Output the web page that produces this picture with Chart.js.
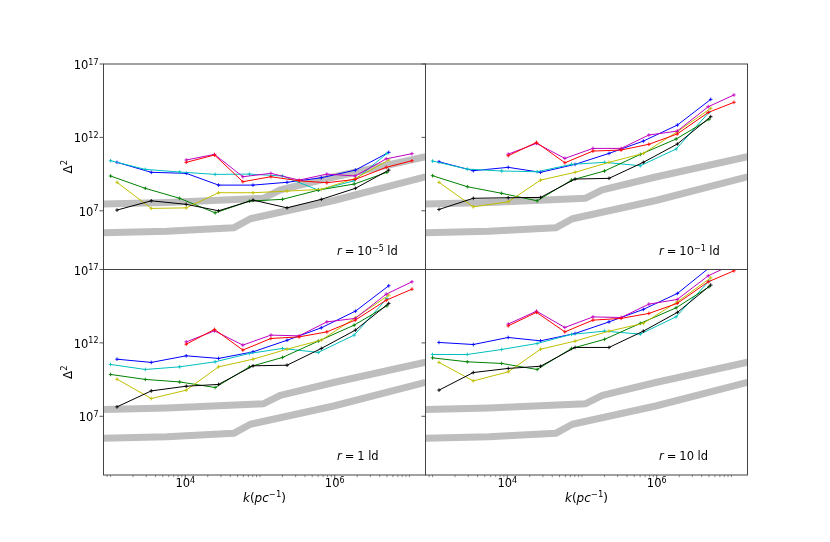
<!DOCTYPE html>
<html>
<head>
<meta charset="utf-8">
<script src="https://cdn.jsdelivr.net/npm/chart.js@4.4.1/dist/chart.umd.min.js"></script>
<style>
  html, body { margin: 0; padding: 0; background: #fff; }
  #fig { position: relative; width: 830px; height: 542px; }
  #fig canvas { position: absolute; left: 0; top: 0; }
</style>
</head>
<body>
<div id="fig">
  <canvas id="p0" width="830" height="542"></canvas>
  <canvas id="p1" width="830" height="542"></canvas>
  <canvas id="p2" width="830" height="542"></canvas>
  <canvas id="p3" width="830" height="542"></canvas>
</div>
<script>
// k grids (pc^-1) of the three groups of curves
const K_A = [1.22e3, 3.51e3, 1.03e4, 2.79e4, 8.07e4, 2.30e5, 6.62e5, 1.89e6, 5.28e6];   // blue, yellow, black
const K_B = [1.0e3, 2.92e3, 8.41e3, 2.51e4, 7.24e4, 2.0e5, 6.03e5, 1.82e6, 5.01e6];    // cyan, green
const K_C = [1.03e4, 2.46e4, 5.90e4, 1.40e5, 3.34e5, 7.85e5, 1.88e6, 4.89e6, 1.08e7];  // red, magenta

// Delta^2 per panel: [r=1e-5, r=1e-1, r=1, r=10]
const BLUE = [
  [2.0e10, 4.17e9, 3.55e9, 5.62e8, 5.62e8, 8.71e8, 1.78e9, 5.89e9, 9.55e10],
  [2.19e10, 5.37e9, 9.12e9, 4.17e9, 1.45e10, 8.13e10, 5.62e11, 6.92e12, 3.89e14],
  [7.76e10, 4.68e10, 1.32e11, 8.71e10, 2.45e11, 1.51e12, 1.07e13, 1.45e14, 7.76e15],
  [1.07e12, 7.76e11, 2.34e12, 1.38e12, 4.37e12, 2.69e13, 1.91e14, 2.34e15, 1.58e17]
];
const CYAN = [
  [2.57e10, 6.61e9, 4.37e9, 3.02e9, 3.16e9, 2.34e9, 2.57e8, 1.10e9, 8.13e10],
  [2.45e10, 6.92e9, 5.13e9, 4.57e9, 1.45e10, 2.0e10, 1.17e10, 1.62e11, 5.13e13],
  [3.39e10, 1.55e10, 2.34e10, 5.13e10, 1.91e11, 4.17e11, 2.24e11, 3.39e12, 1.07e15],
  [1.62e11, 1.62e11, 3.55e11, 9.12e11, 3.80e12, 6.31e12, 3.98e12, 6.03e13, 1.62e16]
];
const GREEN = [
  [2.34e9, 3.39e8, 7.08e7, 7.24e6, 4.57e7, 6.03e7, 2.57e8, 6.61e8, 4.17e9],
  [2.45e9, 4.37e8, 1.55e8, 4.79e7, 1.23e9, 5.13e9, 6.92e10, 7.76e11, 1.70e13],
  [7.08e9, 3.24e9, 2.19e9, 9.12e8, 2.34e10, 1.02e11, 1.32e12, 1.62e13, 3.39e14],
  [9.55e10, 5.13e10, 3.98e10, 1.55e10, 4.17e11, 1.74e12, 2.14e13, 2.45e14, 6.61e15]
];
const YELLOW = [
  [8.71e8, 1.45e7, 1.58e7, 1.70e8, 1.70e8, 2.19e8, 2.88e8, 1.62e9, 2.88e10],
  [8.71e8, 1.86e7, 4.07e7, 1.23e9, 4.17e9, 2.0e10, 8.13e10, 2.45e12, 9.55e13],
  [3.39e9, 1.62e8, 6.03e8, 2.34e10, 7.76e10, 3.72e11, 1.55e12, 5.13e13, 1.78e15],
  [4.68e10, 2.57e9, 1.07e10, 3.72e11, 1.32e12, 6.31e12, 2.14e13, 6.31e14, 2.69e16]
];
const BLACK = [
  [1.12e7, 4.79e7, 2.75e7, 1.0e7, 5.37e7, 1.58e7, 6.03e7, 3.39e8, 5.89e9],
  [1.23e7, 7.08e7, 7.76e7, 8.13e7, 1.45e9, 1.62e9, 2.0e10, 3.55e11, 2.57e13],
  [4.37e7, 5.37e8, 1.12e9, 1.48e9, 2.75e10, 3.02e10, 4.17e11, 7.41e12, 4.90e14],
  [6.03e8, 9.55e9, 1.82e10, 2.57e10, 4.90e11, 4.90e11, 6.31e12, 1.20e14, 8.71e15]
];
const RED = [
  [2.0e10, 6.31e10, 9.55e8, 2.09e9, 1.10e9, 8.13e8, 1.38e9, 9.12e9, 2.57e10],
  [5.62e10, 4.57e11, 1.86e10, 1.17e11, 1.38e11, 3.39e11, 1.70e12, 5.0e13, 2.45e14],
  [8.13e11, 8.32e12, 3.24e11, 2.0e12, 2.57e12, 5.62e12, 3.55e13, 8.13e14, 4.57e15],
  [1.45e13, 1.20e14, 5.62e12, 3.55e13, 4.68e13, 1.02e14, 4.90e14, 1.45e16, 8.13e16]
];
const MAGENTA = [
  [2.88e10, 6.92e10, 2.09e9, 3.55e9, 1.23e9, 3.16e9, 2.34e9, 3.47e10, 7.76e10],
  [7.24e10, 3.89e11, 3.72e10, 1.78e11, 1.78e11, 1.45e12, 2.69e12, 1.23e14, 7.76e14],
  [1.17e12, 6.61e12, 7.08e11, 3.39e12, 3.02e12, 2.69e13, 4.68e13, 2.09e15, 1.45e16],
  [1.91e13, 1.45e14, 1.12e13, 5.89e13, 5.37e13, 4.37e14, 9.12e14, 3.72e16, 2.51e17]
];

// the two grey reference bands (same in every panel)
const BAND_HI_K = [805, 5690, 1.12e5, 1.87e5, 9.68e5, 1.64e7];
const BAND_HI = [2.88e7, 3.72e7, 7.24e7, 2.63e8, 2.0e9, 4.79e10];
const BAND_LO_K = [805, 5690, 4.44e4, 7.43e4, 9.68e5, 1.64e7];
const BAND_LO = [3.16e5, 3.98e5, 6.92e5, 2.88e6, 5.01e7, 2.04e9];

// axes
const X_MIN = 805, X_MAX = 1.64e7;
const Y_MIN = 1e3, Y_MAX = 1e17;
const Y_TICKS = [1e7, 1e12, 1e17];
const X_MAJOR = [1e4, 1e6];
const R_TEXT = [['10', '\u22125'], ['10', '\u22121'], ['1', ''], ['10', '']];

// figure layout (px)
const COL_X = [103.5, 425.5, 747.5];
const ROW_Y = [64, 269.5, 475];

const SERIES = [
  { y: RED, k: K_C, color: '#ff0000' },
  { y: MAGENTA, k: K_C, color: '#bf00bf' },
  { y: BLACK, k: K_A, color: '#000000' },
  { y: YELLOW, k: K_A, color: '#bfbf00' },
  { y: GREEN, k: K_B, color: '#008000' },
  { y: CYAN, k: K_B, color: '#00bfbf' },
  { y: BLUE, k: K_A, color: '#0000ff' }
];

const FONT = "'DejaVu Sans', sans-serif";
const FS = 11, SUP = 8;

function xMinorTicks() {
  const out = [];
  for (let e = 2; e <= 7; e++) {
    for (let m = 1; m <= 9; m++) {
      const v = m * Math.pow(10, e);
      if (v >= X_MIN && v <= X_MAX && !X_MAJOR.includes(v)) out.push(v);
    }
  }
  return out;
}

// parts: [text, size, italic, rise] or a number = gap in px
function mathText(ctx, parts, x, y, align) {
  const fnt = p => (p[2] ? 'italic ' : '') + p[1] + 'px ' + FONT;
  let w = 0;
  parts.forEach(p => {
    if (typeof p === 'number') { w += p; return; }
    ctx.font = fnt(p); w += ctx.measureText(p[0]).width;
  });
  let cx = align === 'right' ? x - w : align === 'center' ? x - w / 2 : x;
  ctx.textAlign = 'left';
  ctx.textBaseline = 'alphabetic';
  parts.forEach(p => {
    if (typeof p === 'number') { cx += p; return; }
    ctx.font = fnt(p);
    ctx.fillText(p[0], cx, y - (p[3] || 0));
    cx += ctx.measureText(p[0]).width;
  });
}

const axesDecor = {
  id: 'axesDecor',
  afterDatasetsDraw(chart, args, o) {
    const { ctx, chartArea: a, scales: { x, y } } = chart;
    ctx.save();
    ctx.fillStyle = '#000';
    ctx.strokeStyle = '#444';
    ctx.lineWidth = 1;
    ctx.strokeRect(a.left, a.top, a.right - a.left, a.bottom - a.top);

    // y ticks
    ctx.lineWidth = 0.9;
    Y_TICKS.forEach(v => {
      const py = y.getPixelForValue(v);
      ctx.beginPath(); ctx.moveTo(a.left - 4, py); ctx.lineTo(a.left, py); ctx.stroke();
      if (o.col === 0) {
        const e = String(Math.round(Math.log10(v)));
        mathText(ctx, [['10', FS + 0.5], [e, SUP, false, 4.5]], a.left - 5, py + 5, 'right');
      }
    });

    // x ticks on the bottom row
    if (o.row === 1) {
      ctx.lineWidth = 0.6;
      xMinorTicks().forEach(v => {
        const px = x.getPixelForValue(v);
        ctx.beginPath(); ctx.moveTo(px, a.bottom); ctx.lineTo(px, a.bottom + 2.2); ctx.stroke();
      });
      ctx.lineWidth = 0.9;
      X_MAJOR.forEach(v => {
        const px = x.getPixelForValue(v);
        ctx.beginPath(); ctx.moveTo(px, a.bottom); ctx.lineTo(px, a.bottom + 4); ctx.stroke();
        const e = String(Math.round(Math.log10(v)));
        mathText(ctx, [['10', FS + 0.5], [e, SUP, false, 4.5]], px, a.bottom + 12, 'center');
      });
      mathText(ctx, [['k', 12, true], ['(', 12], ['pc', 12, true], ['\u22121', 8.5, false, 5], [')', 12]],
        (a.left + a.right) / 2, a.bottom + 26.5, 'center');
    }

    // y label on the left column
    if (o.col === 0) {
      ctx.save();
      ctx.translate(71.5, (a.top + a.bottom) / 2);
      ctx.rotate(-Math.PI / 2);
      mathText(ctx, [['\u0394', 12], ['2', 8.5, false, 5]], 0, 0, 'center');
      ctx.restore();
    }

    // panel annotation
    const r = R_TEXT[o.idx];
    const parts = [['r', FS + 0.5, true], 3, ['=', FS + 0.5], 3, [r[0], FS + 0.5]];
    if (r[1]) parts.push([r[1], SUP, false, 4]);
    parts.push(3.5, ['ld', FS + 0.5]);
    mathText(ctx, parts, a.left + 0.725 * (a.right - a.left), a.bottom - 15, 'left');
    ctx.restore();
  }
};

function makePanel(idx) {
  const col = idx % 2, row = Math.floor(idx / 2);
  const datasets = SERIES.map(s => ({
    data: s.k.map((k, j) => ({ x: k, y: s.y[idx][j] })),
    borderColor: s.color,
    backgroundColor: s.color,
    borderWidth: 1,
    pointStyle: 'cross',
    pointRadius: 1.8,
    pointBorderWidth: 0.9,
    pointBorderColor: s.color,
    clip: 0,
    order: 0
  }));
  [[BAND_HI_K, BAND_HI], [BAND_LO_K, BAND_LO]].forEach(([ks, vs]) => {
    datasets.push({
      data: ks.map((k, j) => ({ x: k, y: vs[j] })),
      borderColor: '#bebebe',
      borderWidth: 7,
      borderJoinStyle: 'round',
      pointRadius: 0,
      clip: 0,
      order: 1
    });
  });

  new Chart(document.getElementById('p' + idx), {
    type: 'line',
    data: { datasets },
    options: {
      responsive: false,
      animation: false,
      events: [],
      layout: {
        padding: {
          left: COL_X[col],
          right: 830 - COL_X[col + 1],
          top: ROW_Y[row],
          bottom: 542 - ROW_Y[row + 1]
        }
      },
      elements: { line: { tension: 0 } },
      scales: {
        x: { type: 'logarithmic', min: X_MIN, max: X_MAX, display: false },
        y: { type: 'logarithmic', min: Y_MIN, max: Y_MAX, display: false }
      },
      plugins: {
        legend: { display: false },
        tooltip: { enabled: false },
        axesDecor: { idx, col, row }
      }
    },
    plugins: [axesDecor]
  });
}

[0, 1, 2, 3].forEach(makePanel);
</script>
</body>
</html>
